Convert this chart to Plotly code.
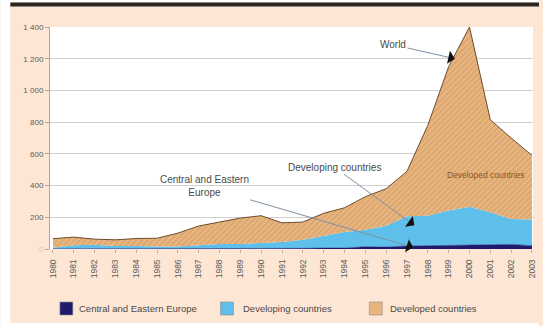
import plotly.graph_objects as go

years = list(range(1980, 2004))
year_labels = [str(y) for y in years]
cee = [1, 1, 1, 1, 1, 1, 1, 1, 1, 1, 1, 3, 4, 6, 6, 14, 12, 19, 22, 23, 27, 27, 29, 21]
developing = [7, 22, 26, 18, 18, 14, 15, 22, 30, 31, 35, 41, 55, 78, 101, 107, 135, 187, 188, 220, 240, 205, 160, 165]
developed = [57, 52, 35, 39, 47, 53, 84, 122, 139, 163, 174, 121, 111, 141, 153, 209, 233, 284, 570, 907, 1133, 583, 511, 404]
y_ticks = [0, 200, 400, 600, 800, 1000, 1200, 1400]
y_tick_text = ["<span style='color:#d8c8bc'>0</span>", "200", "400", "600", "800", "1 000", "1 200", "1 400"]
series_names = ["Central and Eastern Europe", "Developing countries", "Developed countries"]

NAVY = "#1f1a6e"
BLUE = "#5ebfea"
TAN = "#e8b57e"
PEACH = "#fde6d3"
FONT = "Liberation Sans"

W, H = 543, 326
L, R, T, B = 50, 537, 27, 249


def px(x):
    return (x - L) / (R - L)


def py(y):
    return (B - y) / (B - T)


fig = go.Figure()
fig.add_trace(go.Scatter(x=years, y=cee, name=series_names[0], stackgroup="s",
                         mode="lines", line=dict(width=0.5, color=NAVY), fillcolor=NAVY))
fig.add_trace(go.Scatter(x=years, y=developing, name=series_names[1], stackgroup="s",
                         mode="lines", line=dict(width=0, color=BLUE), fillcolor=BLUE))
fig.add_trace(go.Scatter(x=years, y=developed, name=series_names[2], stackgroup="s",
                         mode="lines", line=dict(width=1, color="#6e4c2c"), fillcolor=TAN,
                         fillpattern=dict(shape="/", fgcolor="#b98552", bgcolor=TAN,
                                          size=4, solidity=0.25)))

shapes = [
    dict(type="rect", xref="paper", yref="paper", x0=px(0), x1=px(10), y0=py(H), y1=py(0),
         fillcolor="white", line_width=0, layer="below"),
    dict(type="rect", xref="paper", yref="paper", x0=px(0), x1=px(W), y0=py(323), y1=py(H),
         fillcolor="white", line_width=0, layer="below"),
    dict(type="rect", xref="paper", yref="paper", x0=px(0), x1=px(W), y0=py(2), y1=py(0),
         fillcolor="white", line_width=0, layer="below"),
    dict(type="rect", xref="paper", yref="paper", x0=px(10), x1=px(W), y0=py(6.5), y1=py(2.5),
         fillcolor="#2b2520", line_width=0, layer="below"),
]

sw_y0, sw_y1 = py(315), py(302)
legend_items = [(60, NAVY, 77), (222, BLUE, 243), (372, TAN, 391)]
for (x0, col, tx), name in zip(legend_items, series_names):
    shapes.append(dict(type="rect", xref="paper", yref="paper", x0=px(x0), x1=px(x0 + 13),
                       y0=sw_y0, y1=sw_y1, fillcolor=col, line=dict(width=0.6, color="#8a8a8a")))
fig.update_layout(shapes=shapes)

ann = []
for (x0, col, tx), name in zip(legend_items, series_names):
    ann.append(dict(xref="paper", yref="paper", x=px(tx), y=py(308.5), text=name,
                    showarrow=False, xanchor="left", yanchor="middle",
                    font=dict(size=9.5, color="#4a4a4a", family=FONT)))

LINE_C = "#7d91a6"
arrows = [
    ("World", 1999.3, 1200, -62, -14),
    ("Developing countries", 1997.35, 150, -80, -58),
    ("Central and Eastern<br>Europe", 1997.3, 10, -209, -61),
]
for text, x, y, ax, ay in arrows:
    ann.append(dict(x=x, y=y, ax=ax, ay=ay, text=text, showarrow=True, arrowhead=0,
                    arrowwidth=1, arrowcolor=LINE_C,
                    font=dict(size=10, color="#4a4a4a", family=FONT)))
    length = (ax ** 2 + ay ** 2) ** 0.5
    ann.append(dict(x=x, y=y, ax=ax / length * 7, ay=ay / length * 7, text="",
                    showarrow=True, arrowhead=1, arrowsize=1.1, arrowwidth=2,
                    arrowcolor="#111111"))

ann.append(dict(x=2000.8, y=465, text="Developed countries", showarrow=False,
                font=dict(size=8.5, color="#8a5527", family=FONT)))

fig.update_layout(
    annotations=ann,
    width=W, height=H,
    margin=dict(l=L, r=W - R, t=T, b=H - B),
    paper_bgcolor=PEACH, plot_bgcolor="white",
    showlegend=False,
    font=dict(family=FONT, size=8, color="#555"),
    xaxis=dict(range=[1979.86, 2003.05], tickmode="array", tickvals=years, ticktext=year_labels,
               tickangle=-90, tickfont=dict(size=8.5, color="#5a5a5a"), ticks="outside",
               ticklen=3, tickcolor="#c0ae9c", ticklabelstandoff=3, showgrid=False,
               zeroline=False, showline=False, fixedrange=True),
    yaxis=dict(range=[0, 1400], tickmode="array", tickvals=y_ticks, ticktext=y_tick_text,
               tickfont=dict(size=8, color="#5a5a5a"), showgrid=True, gridcolor="#cfcfcf",
               gridwidth=1, zeroline=False, showline=True, linecolor="#a8a8a8", linewidth=1,
               ticks="outside", ticklen=4, tickcolor="#a8a8a8", fixedrange=True),
)

fig.write_html("out.html", config={"displayModeBar": False},
               post_script="document.body.style.margin='0';document.body.style.overflow='hidden';")
